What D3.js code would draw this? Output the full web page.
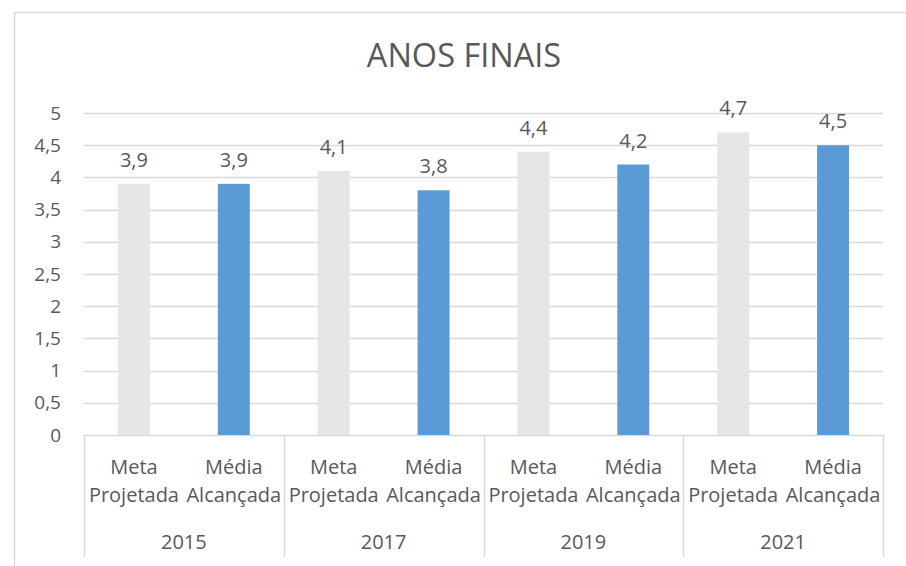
<!DOCTYPE html>
<html>
<head>
<meta charset="utf-8">
<script src="https://cdn.jsdelivr.net/npm/d3@7"></script>
<style>
  body { margin: 0; background: #fff; }
  svg { display: block; font-family: 'Open Sans', sans-serif; }
</style>
</head>
<body>
<svg class="chart" width="906" height="566"></svg>
<script>
const years = ['2015', '2017', '2019', '2021'];
const seriesNames = ['Meta\nProjetada', 'Média\nAlcançada'];
const metaProjetada = [3.9, 4.1, 4.4, 4.7];
const mediaAlcancada = [3.9, 3.8, 4.2, 4.5];
const yTicks = [0, 0.5, 1, 1.5, 2, 2.5, 3, 3.5, 4, 4.5, 5];
const colors = ['#e7e6e6', '#5b9bd5'];

const svg = d3.select('.chart');
const textColor = '#595959';
const gridColor = '#d9d9d9';
const margin = { top: 113, right: 23, bottom: 131, left: 84 };
const width = 906 - margin.left - margin.right;
const height = 566 - margin.top - margin.bottom;

// outer chart frame
svg.append('rect')
  .attr('x', 14.5).attr('y', 12.5)
  .attr('width', 1000).attr('height', 1000)
  .attr('fill', 'none').attr('stroke', gridColor).attr('stroke-width', 1.5);

svg.append('text')
  .attr('x', 464).attr('y', 67)
  .attr('text-anchor', 'middle')
  .attr('font-size', 32.5)
  .attr('fill', textColor)
  .text('ANOS FINAIS');

const bars = [];
years.forEach((yr, i) => {
  bars.push({ key: `${yr}-0`, year: yr, series: 0, value: metaProjetada[i] });
  bars.push({ key: `${yr}-1`, year: yr, series: 1, value: mediaAlcancada[i] });
});

const x = d3.scaleBand()
  .domain(bars.map(d => d.key))
  .range([0, width])
  .paddingInner(0.68)
  .paddingOuter(0.34);

const xGroup = d3.scaleBand().domain(years).range([0, width]);

const y = d3.scaleLinear().domain([0, 5]).range([height, 0]);

const g = svg.append('g').attr('transform', `translate(${margin.left}, ${margin.top})`);

g.append('g')
  .selectAll('line')
  .data(yTicks)
  .enter()
  .append('line')
  .attr('x1', 0).attr('x2', width)
  .attr('y1', d => Math.round(y(d)) + 0.5)
  .attr('y2', d => Math.round(y(d)) + 0.5)
  .attr('stroke', gridColor)
  .attr('stroke-width', 1.5);

g.append('g')
  .selectAll('text')
  .data(yTicks)
  .enter()
  .append('text')
  .attr('x', -23)
  .attr('y', d => y(d) + 6.5)
  .attr('text-anchor', 'end')
  .attr('font-size', 19)
  .attr('fill', textColor)
  .text(d => String(d).replace('.', ','));

g.append('g')
  .selectAll('rect')
  .data(bars)
  .enter()
  .append('rect')
  .attr('x', d => x(d.key))
  .attr('width', x.bandwidth())
  .attr('y', d => y(d.value))
  .attr('height', d => height - y(d.value))
  .attr('fill', d => colors[d.series]);

g.append('g')
  .selectAll('text')
  .data(bars)
  .enter()
  .append('text')
  .attr('x', d => x(d.key) + x.bandwidth() / 2)
  .attr('y', d => y(d.value) - 17)
  .attr('text-anchor', 'middle')
  .attr('font-size', 20)
  .attr('fill', textColor)
  .text(d => String(d.value).replace('.', ','));

// multi-level category axis
g.append('g')
  .selectAll('line')
  .data(years.concat(['end']))
  .enter()
  .append('line')
  .attr('x1', (d, i) => Math.round(i * xGroup.step()) + 0.5)
  .attr('x2', (d, i) => Math.round(i * xGroup.step()) + 0.5)
  .attr('y1', height)
  .attr('y2', height + 122)
  .attr('stroke', gridColor)
  .attr('stroke-width', 1.5);

const catLabels = g.append('g')
  .selectAll('text')
  .data(bars)
  .enter()
  .append('text')
  .attr('x', d => x(d.key) + x.bandwidth() / 2)
  .attr('text-anchor', 'middle')
  .attr('font-size', 20)
  .attr('fill', textColor);

catLabels.selectAll('tspan')
  .data(d => seriesNames[d.series].split('\n').map(t => ({ t, cx: x(d.key) + x.bandwidth() / 2 })))
  .enter()
  .append('tspan')
  .attr('x', d => d.cx)
  .attr('y', (d, i) => height + 39 + i * 28)
  .text(d => d.t);

g.append('g')
  .selectAll('text')
  .data(years)
  .enter()
  .append('text')
  .attr('x', d => xGroup(d) + xGroup.bandwidth() / 2)
  .attr('y', height + 114)
  .attr('text-anchor', 'middle')
  .attr('font-size', 20)
  .attr('fill', textColor)
  .text(d => d);
</script>
</body>
</html>
